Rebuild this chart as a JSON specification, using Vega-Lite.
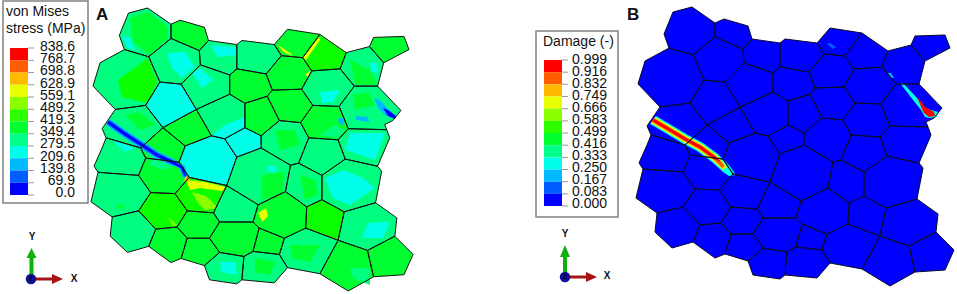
{"$schema":"https://vega.github.io/schema/vega-lite/v6.json","padding":0,"spacing":0,"background":"white","config":{"view":{"stroke":null}},
"datasets":{
"grains":[
{"g":1,"a":5,"x":692,"y":7},{"g":1,"a":5,"x":673,"y":12},{"g":1,"a":5,"x":664,"y":34},{"g":1,"a":5,"x":669,"y":48},{"g":1,"a":5,"x":693,"y":55},{"g":1,"a":5,"x":715,"y":37},{"g":1,"a":5,"x":715,"y":23},{"g":1,"a":5,"x":692,"y":7},
{"g":2,"a":6,"x":715,"y":23},{"g":2,"a":6,"x":724,"y":19},{"g":2,"a":6,"x":748,"y":26},{"g":2,"a":6,"x":752,"y":39},{"g":2,"a":6,"x":743,"y":49},{"g":2,"a":6,"x":715,"y":37},{"g":2,"a":6,"x":715,"y":23},
{"g":3,"a":5,"x":752,"y":39},{"g":3,"a":5,"x":780,"y":43},{"g":3,"a":5,"x":780,"y":67},{"g":3,"a":5,"x":773,"y":73},{"g":3,"a":5,"x":744,"y":63},{"g":3,"a":5,"x":743,"y":49},{"g":3,"a":5,"x":752,"y":39},
{"g":4,"a":5,"x":780,"y":43},{"g":4,"a":5,"x":785,"y":39},{"g":4,"a":5,"x":817,"y":43},{"g":4,"a":5,"x":824,"y":54},{"g":4,"a":5,"x":809,"y":72},{"g":4,"a":5,"x":780,"y":67},{"g":4,"a":5,"x":780,"y":43},
{"g":5,"a":6,"x":817,"y":43},{"g":5,"a":6,"x":830,"y":28},{"g":5,"a":6,"x":862,"y":33},{"g":5,"a":6,"x":845,"y":56},{"g":5,"a":6,"x":824,"y":54},{"g":5,"a":6,"x":817,"y":43},
{"g":6,"a":7,"x":862,"y":33},{"g":6,"a":7,"x":888,"y":51},{"g":6,"a":7,"x":882,"y":67},{"g":6,"a":7,"x":854,"y":69},{"g":6,"a":7,"x":845,"y":56},{"g":6,"a":7,"x":862,"y":33},
{"g":7,"a":5,"x":888,"y":51},{"g":7,"a":5,"x":911,"y":45},{"g":7,"a":5,"x":925,"y":61},{"g":7,"a":5,"x":919,"y":84},{"g":7,"a":5,"x":896,"y":84},{"g":7,"a":5,"x":882,"y":67},{"g":7,"a":5,"x":888,"y":51},
{"g":8,"a":6,"x":911,"y":45},{"g":8,"a":6,"x":915,"y":36},{"g":8,"a":6,"x":945,"y":35},{"g":8,"a":6,"x":950,"y":48},{"g":8,"a":6,"x":925,"y":61},{"g":8,"a":6,"x":911,"y":45},
{"g":9,"a":5,"x":669,"y":48},{"g":9,"a":5,"x":645,"y":61},{"g":9,"a":5,"x":638,"y":84},{"g":9,"a":5,"x":660,"y":107},{"g":9,"a":5,"x":690,"y":103},{"g":9,"a":5,"x":704,"y":80},{"g":9,"a":5,"x":693,"y":55},{"g":9,"a":5,"x":669,"y":48},
{"g":10,"a":5,"x":693,"y":55},{"g":10,"a":5,"x":715,"y":37},{"g":10,"a":5,"x":743,"y":49},{"g":10,"a":5,"x":744,"y":63},{"g":10,"a":5,"x":725,"y":82},{"g":10,"a":5,"x":704,"y":80},{"g":10,"a":5,"x":693,"y":55},
{"g":11,"a":4,"x":704,"y":80},{"g":11,"a":4,"x":725,"y":82},{"g":11,"a":4,"x":740,"y":107},{"g":11,"a":4,"x":707,"y":125},{"g":11,"a":4,"x":690,"y":103},{"g":11,"a":4,"x":704,"y":80},
{"g":12,"a":5,"x":725,"y":82},{"g":12,"a":5,"x":744,"y":63},{"g":12,"a":5,"x":773,"y":73},{"g":12,"a":5,"x":773,"y":92},{"g":12,"a":5,"x":740,"y":107},{"g":12,"a":5,"x":725,"y":82},
{"g":13,"a":6,"x":773,"y":73},{"g":13,"a":6,"x":780,"y":67},{"g":13,"a":6,"x":809,"y":72},{"g":13,"a":6,"x":815,"y":88},{"g":13,"a":6,"x":810,"y":94},{"g":13,"a":6,"x":788,"y":101},{"g":13,"a":6,"x":773,"y":92},{"g":13,"a":6,"x":773,"y":73},
{"g":14,"a":6,"x":809,"y":72},{"g":14,"a":6,"x":824,"y":54},{"g":14,"a":6,"x":845,"y":56},{"g":14,"a":6,"x":854,"y":69},{"g":14,"a":6,"x":844,"y":87},{"g":14,"a":6,"x":815,"y":88},{"g":14,"a":6,"x":809,"y":72},
{"g":15,"a":5,"x":854,"y":69},{"g":15,"a":5,"x":882,"y":67},{"g":15,"a":5,"x":896,"y":84},{"g":15,"a":5,"x":881,"y":104},{"g":15,"a":5,"x":855,"y":103},{"g":15,"a":5,"x":844,"y":87},{"g":15,"a":5,"x":854,"y":69},
{"g":17,"a":5,"x":896,"y":84},{"g":17,"a":5,"x":919,"y":84},{"g":17,"a":5,"x":942,"y":108},{"g":17,"a":5,"x":934,"y":118},{"g":17,"a":5,"x":926,"y":122},{"g":17,"a":5,"x":928,"y":127},{"g":17,"a":5,"x":890,"y":126},{"g":17,"a":5,"x":881,"y":104},{"g":17,"a":5,"x":896,"y":84},
{"g":18,"a":6,"x":815,"y":88},{"g":18,"a":6,"x":844,"y":87},{"g":18,"a":6,"x":855,"y":103},{"g":18,"a":6,"x":843,"y":120},{"g":18,"a":6,"x":822,"y":118},{"g":18,"a":6,"x":810,"y":94},{"g":18,"a":6,"x":815,"y":88},
{"g":19,"a":6,"x":855,"y":103},{"g":19,"a":6,"x":881,"y":104},{"g":19,"a":6,"x":890,"y":126},{"g":19,"a":6,"x":880,"y":137},{"g":19,"a":6,"x":851,"y":135},{"g":19,"a":6,"x":843,"y":120},{"g":19,"a":6,"x":855,"y":103},
{"g":20,"a":5,"x":890,"y":126},{"g":20,"a":5,"x":928,"y":127},{"g":20,"a":5,"x":931,"y":135},{"g":20,"a":5,"x":919,"y":163},{"g":20,"a":5,"x":887,"y":156},{"g":20,"a":5,"x":880,"y":137},{"g":20,"a":5,"x":890,"y":126},
{"g":21,"a":5,"x":740,"y":107},{"g":21,"a":5,"x":773,"y":92},{"g":21,"a":5,"x":788,"y":101},{"g":21,"a":5,"x":788,"y":125},{"g":21,"a":5,"x":768,"y":136},{"g":21,"a":5,"x":755,"y":133},{"g":21,"a":5,"x":740,"y":107},
{"g":22,"a":6,"x":788,"y":101},{"g":22,"a":6,"x":810,"y":94},{"g":22,"a":6,"x":822,"y":118},{"g":22,"a":6,"x":804,"y":133},{"g":22,"a":6,"x":788,"y":125},{"g":22,"a":6,"x":788,"y":101},
{"g":23,"a":6,"x":707,"y":125},{"g":23,"a":6,"x":740,"y":107},{"g":23,"a":6,"x":755,"y":133},{"g":23,"a":6,"x":729,"y":143},{"g":23,"a":6,"x":707,"y":125},
{"g":24,"a":4,"x":755,"y":133},{"g":24,"a":4,"x":768,"y":136},{"g":24,"a":4,"x":780,"y":154},{"g":24,"a":4,"x":770,"y":182},{"g":24,"a":4,"x":733,"y":174},{"g":24,"a":4,"x":723,"y":159},{"g":24,"a":4,"x":729,"y":143},{"g":24,"a":4,"x":755,"y":133},
{"g":25,"a":4,"x":768,"y":136},{"g":25,"a":4,"x":788,"y":125},{"g":25,"a":4,"x":804,"y":133},{"g":25,"a":4,"x":804,"y":145},{"g":25,"a":4,"x":780,"y":154},{"g":25,"a":4,"x":768,"y":136},
{"g":26,"a":5,"x":804,"y":133},{"g":26,"a":5,"x":822,"y":118},{"g":26,"a":5,"x":843,"y":120},{"g":26,"a":5,"x":851,"y":135},{"g":26,"a":5,"x":847,"y":145},{"g":26,"a":5,"x":841,"y":160},{"g":26,"a":5,"x":833,"y":162},{"g":26,"a":5,"x":804,"y":145},{"g":26,"a":5,"x":804,"y":133},
{"g":27,"a":5,"x":851,"y":135},{"g":27,"a":5,"x":880,"y":137},{"g":27,"a":5,"x":887,"y":156},{"g":27,"a":5,"x":864,"y":172},{"g":27,"a":5,"x":841,"y":160},{"g":27,"a":5,"x":847,"y":145},{"g":27,"a":5,"x":851,"y":135},
{"g":28,"a":5,"x":887,"y":156},{"g":28,"a":5,"x":919,"y":163},{"g":28,"a":5,"x":923,"y":168},{"g":28,"a":5,"x":917,"y":199},{"g":28,"a":5,"x":886,"y":208},{"g":28,"a":5,"x":864,"y":196},{"g":28,"a":5,"x":864,"y":172},{"g":28,"a":5,"x":887,"y":156},
{"g":29,"a":5,"x":841,"y":160},{"g":29,"a":5,"x":864,"y":172},{"g":29,"a":5,"x":864,"y":196},{"g":29,"a":5,"x":849,"y":203},{"g":29,"a":5,"x":828,"y":188},{"g":29,"a":5,"x":833,"y":162},{"g":29,"a":5,"x":841,"y":160},
{"g":30,"a":5,"x":780,"y":154},{"g":30,"a":5,"x":804,"y":145},{"g":30,"a":5,"x":833,"y":162},{"g":30,"a":5,"x":828,"y":188},{"g":30,"a":5,"x":801,"y":201},{"g":30,"a":5,"x":770,"y":182},{"g":30,"a":5,"x":780,"y":154},
{"g":31,"a":6,"x":828,"y":188},{"g":31,"a":6,"x":849,"y":203},{"g":31,"a":6,"x":848,"y":224},{"g":31,"a":6,"x":827,"y":234},{"g":31,"a":6,"x":802,"y":224},{"g":31,"a":6,"x":796,"y":218},{"g":31,"a":6,"x":801,"y":201},{"g":31,"a":6,"x":828,"y":188},
{"g":32,"a":7,"x":849,"y":203},{"g":32,"a":7,"x":864,"y":196},{"g":32,"a":7,"x":886,"y":208},{"g":32,"a":7,"x":880,"y":236},{"g":32,"a":7,"x":848,"y":224},{"g":32,"a":7,"x":849,"y":203},
{"g":33,"a":5,"x":886,"y":208},{"g":33,"a":5,"x":917,"y":199},{"g":33,"a":5,"x":938,"y":214},{"g":33,"a":5,"x":936,"y":232},{"g":33,"a":5,"x":909,"y":246},{"g":33,"a":5,"x":880,"y":236},{"g":33,"a":5,"x":886,"y":208},
{"g":34,"a":6,"x":936,"y":232},{"g":34,"a":6,"x":954,"y":250},{"g":34,"a":6,"x":945,"y":270},{"g":34,"a":6,"x":915,"y":272},{"g":34,"a":6,"x":909,"y":246},{"g":34,"a":6,"x":936,"y":232},
{"g":35,"a":6,"x":880,"y":236},{"g":35,"a":6,"x":909,"y":246},{"g":35,"a":6,"x":915,"y":272},{"g":35,"a":6,"x":890,"y":286},{"g":35,"a":6,"x":862,"y":269},{"g":35,"a":6,"x":880,"y":236},
{"g":36,"a":5,"x":848,"y":224},{"g":36,"a":5,"x":880,"y":236},{"g":36,"a":5,"x":862,"y":269},{"g":36,"a":5,"x":830,"y":263},{"g":36,"a":5,"x":822,"y":250},{"g":36,"a":5,"x":827,"y":234},{"g":36,"a":5,"x":848,"y":224},
{"g":37,"a":6,"x":802,"y":224},{"g":37,"a":6,"x":827,"y":234},{"g":37,"a":6,"x":822,"y":250},{"g":37,"a":6,"x":796,"y":247},{"g":37,"a":6,"x":802,"y":224},
{"g":38,"a":6,"x":763,"y":218},{"g":38,"a":6,"x":796,"y":218},{"g":38,"a":6,"x":802,"y":224},{"g":38,"a":6,"x":796,"y":247},{"g":38,"a":6,"x":787,"y":252},{"g":38,"a":6,"x":763,"y":248},{"g":38,"a":6,"x":753,"y":234},{"g":38,"a":6,"x":763,"y":218},
{"g":39,"a":5,"x":796,"y":247},{"g":39,"a":5,"x":822,"y":250},{"g":39,"a":5,"x":830,"y":263},{"g":39,"a":5,"x":817,"y":278},{"g":39,"a":5,"x":785,"y":275},{"g":39,"a":5,"x":787,"y":252},{"g":39,"a":5,"x":796,"y":247},
{"g":40,"a":5,"x":763,"y":248},{"g":40,"a":5,"x":787,"y":252},{"g":40,"a":5,"x":785,"y":275},{"g":40,"a":5,"x":780,"y":279},{"g":40,"a":5,"x":753,"y":275},{"g":40,"a":5,"x":748,"y":261},{"g":40,"a":5,"x":763,"y":248},
{"g":41,"a":5,"x":770,"y":182},{"g":41,"a":5,"x":801,"y":201},{"g":41,"a":5,"x":796,"y":218},{"g":41,"a":5,"x":763,"y":218},{"g":41,"a":5,"x":757,"y":209},{"g":41,"a":5,"x":770,"y":182},
{"g":42,"a":7,"x":733,"y":174},{"g":42,"a":7,"x":770,"y":182},{"g":42,"a":7,"x":757,"y":209},{"g":42,"a":7,"x":731,"y":207},{"g":42,"a":7,"x":719,"y":190},{"g":42,"a":7,"x":733,"y":174},
{"g":43,"a":6,"x":731,"y":207},{"g":43,"a":6,"x":757,"y":209},{"g":43,"a":6,"x":763,"y":218},{"g":43,"a":6,"x":753,"y":234},{"g":43,"a":6,"x":731,"y":234},{"g":43,"a":6,"x":721,"y":223},{"g":43,"a":6,"x":731,"y":207},
{"g":44,"a":6,"x":700,"y":225},{"g":44,"a":6,"x":721,"y":223},{"g":44,"a":6,"x":731,"y":234},{"g":44,"a":6,"x":725,"y":254},{"g":44,"a":6,"x":715,"y":258},{"g":44,"a":6,"x":693,"y":242},{"g":44,"a":6,"x":700,"y":225},
{"g":45,"a":6,"x":731,"y":234},{"g":45,"a":6,"x":753,"y":234},{"g":45,"a":6,"x":763,"y":248},{"g":45,"a":6,"x":748,"y":261},{"g":45,"a":6,"x":725,"y":254},{"g":45,"a":6,"x":731,"y":234},
{"g":46,"a":7,"x":683,"y":207},{"g":46,"a":7,"x":695,"y":189},{"g":46,"a":7,"x":719,"y":190},{"g":46,"a":7,"x":731,"y":207},{"g":46,"a":7,"x":721,"y":223},{"g":46,"a":7,"x":700,"y":225},{"g":46,"a":7,"x":683,"y":207},
{"g":47,"a":6,"x":690,"y":155},{"g":47,"a":6,"x":723,"y":159},{"g":47,"a":6,"x":733,"y":174},{"g":47,"a":6,"x":719,"y":190},{"g":47,"a":6,"x":695,"y":189},{"g":47,"a":6,"x":683,"y":172},{"g":47,"a":6,"x":690,"y":155},
{"g":48,"a":5,"x":643,"y":169},{"g":48,"a":5,"x":683,"y":172},{"g":48,"a":5,"x":695,"y":189},{"g":48,"a":5,"x":683,"y":207},{"g":48,"a":5,"x":657,"y":213},{"g":48,"a":5,"x":636,"y":198},{"g":48,"a":5,"x":643,"y":169},
{"g":49,"a":5,"x":657,"y":213},{"g":49,"a":5,"x":683,"y":207},{"g":49,"a":5,"x":700,"y":225},{"g":49,"a":5,"x":693,"y":242},{"g":49,"a":5,"x":672,"y":248},{"g":49,"a":5,"x":655,"y":232},{"g":49,"a":5,"x":657,"y":213},
{"g":50,"a":5,"x":651,"y":135},{"g":50,"a":5,"x":685,"y":145},{"g":50,"a":5,"x":690,"y":155},{"g":50,"a":5,"x":683,"y":172},{"g":50,"a":5,"x":643,"y":169},{"g":50,"a":5,"x":639,"y":163},{"g":50,"a":5,"x":647,"y":145},{"g":50,"a":5,"x":651,"y":135},
{"g":51,"a":5,"x":660,"y":107},{"g":51,"a":5,"x":690,"y":103},{"g":51,"a":5,"x":707,"y":125},{"g":51,"a":5,"x":685,"y":145},{"g":51,"a":5,"x":651,"y":135},{"g":51,"a":5,"x":647,"y":126},{"g":51,"a":5,"x":660,"y":107},
{"g":52,"a":6,"x":685,"y":145},{"g":52,"a":6,"x":707,"y":125},{"g":52,"a":6,"x":729,"y":143},{"g":52,"a":6,"x":723,"y":159},{"g":52,"a":6,"x":690,"y":155},{"g":52,"a":6,"x":685,"y":145}
],
"contours":[
{"p":1,"b":6,"x":130,"y":18},{"p":1,"b":6,"x":148,"y":12},{"p":1,"b":6,"x":168,"y":27},{"p":1,"b":6,"x":168,"y":38},{"p":1,"b":6,"x":150,"y":55},{"p":1,"b":6,"x":133,"y":42},
{"p":2,"b":7,"x":118,"y":80},{"p":2,"b":7,"x":148,"y":58},{"p":2,"b":7,"x":157,"y":82},{"p":2,"b":7,"x":147,"y":103},{"p":2,"b":7,"x":122,"y":97},
{"p":3,"b":4,"x":210,"y":45},{"p":3,"b":4,"x":237,"y":47},{"p":3,"b":4,"x":237,"y":55},{"p":3,"b":4,"x":218,"y":57},
{"p":4,"b":4,"x":167,"y":53},{"p":4,"b":4,"x":185,"y":52},{"p":4,"b":4,"x":195,"y":67},{"p":4,"b":4,"x":182,"y":78},{"p":4,"b":4,"x":172,"y":68},
{"p":5,"b":4,"x":192,"y":73},{"p":5,"b":4,"x":200,"y":68},{"p":5,"b":4,"x":213,"y":80},{"p":5,"b":4,"x":202,"y":88},
{"p":6,"b":4,"x":122,"y":35},{"p":6,"b":4,"x":130,"y":38},{"p":6,"b":4,"x":135,"y":50},{"p":6,"b":4,"x":127,"y":48},
{"p":7,"b":4,"x":320,"y":92},{"p":7,"b":4,"x":340,"y":90},{"p":7,"b":4,"x":333,"y":102},{"p":7,"b":4,"x":322,"y":103},
{"p":8,"b":4,"x":325,"y":178},{"p":8,"b":4,"x":343,"y":170},{"p":8,"b":4,"x":363,"y":178},{"p":8,"b":4,"x":375,"y":188},{"p":8,"b":4,"x":350,"y":205},{"p":8,"b":4,"x":333,"y":198},
{"p":9,"b":4,"x":362,"y":238},{"p":9,"b":4,"x":368,"y":223},{"p":9,"b":4,"x":390,"y":222},{"p":9,"b":4,"x":383,"y":238},
{"p":10,"b":6,"x":353,"y":95},{"p":10,"b":6,"x":368,"y":92},{"p":10,"b":6,"x":375,"y":105},{"p":10,"b":6,"x":355,"y":110},
{"p":11,"b":9,"x":186,"y":180},{"p":11,"b":9,"x":205,"y":182},{"p":11,"b":9,"x":226,"y":187},{"p":11,"b":9,"x":222,"y":191},{"p":11,"b":9,"x":200,"y":188},{"p":11,"b":9,"x":190,"y":190},
{"p":12,"b":8,"x":192,"y":192},{"p":12,"b":8,"x":206,"y":196},{"p":12,"b":8,"x":218,"y":208},{"p":12,"b":8,"x":205,"y":210},{"p":12,"b":8,"x":198,"y":203},
{"p":27,"b":5,"x":335,"y":125},{"p":27,"b":5,"x":345,"y":130},{"p":27,"b":5,"x":338,"y":138},{"p":27,"b":5,"x":320,"y":135},
{"p":28,"b":4,"x":350,"y":133},{"p":28,"b":4,"x":385,"y":133},{"p":28,"b":4,"x":375,"y":160},{"p":28,"b":4,"x":345,"y":150},
{"p":29,"b":4,"x":212,"y":135},{"p":29,"b":4,"x":225,"y":125},{"p":29,"b":4,"x":245,"y":117},{"p":29,"b":4,"x":245,"y":128},{"p":29,"b":4,"x":225,"y":139},
{"p":30,"b":6,"x":350,"y":60},{"p":30,"b":6,"x":370,"y":70},{"p":30,"b":6,"x":378,"y":85},{"p":30,"b":6,"x":355,"y":85},
{"p":31,"b":4,"x":370,"y":63},{"p":31,"b":4,"x":377,"y":63},{"p":31,"b":4,"x":377,"y":73},{"p":31,"b":4,"x":372,"y":72},
{"p":32,"b":6,"x":262,"y":175},{"p":32,"b":6,"x":285,"y":172},{"p":32,"b":6,"x":282,"y":195},{"p":32,"b":6,"x":262,"y":200},
{"p":33,"b":4,"x":268,"y":165},{"p":33,"b":4,"x":277,"y":167},{"p":33,"b":4,"x":275,"y":172},{"p":33,"b":4,"x":268,"y":171},
{"p":34,"b":6,"x":300,"y":175},{"p":34,"b":6,"x":315,"y":180},{"p":34,"b":6,"x":318,"y":195},{"p":34,"b":6,"x":305,"y":200},
{"p":35,"b":6,"x":290,"y":245},{"p":35,"b":6,"x":320,"y":245},{"p":35,"b":6,"x":310,"y":262},{"p":35,"b":6,"x":292,"y":258},
{"p":36,"b":6,"x":255,"y":258},{"p":36,"b":6,"x":275,"y":262},{"p":36,"b":6,"x":270,"y":275},{"p":36,"b":6,"x":255,"y":272},
{"p":37,"b":6,"x":115,"y":205},{"p":37,"b":6,"x":125,"y":205},{"p":37,"b":6,"x":122,"y":210},
{"p":38,"b":4,"x":220,"y":262},{"p":38,"b":4,"x":235,"y":262},{"p":38,"b":4,"x":237,"y":275},{"p":38,"b":4,"x":222,"y":272},
{"p":39,"b":6,"x":275,"y":130},{"p":39,"b":6,"x":295,"y":130},{"p":39,"b":6,"x":300,"y":145},{"p":39,"b":6,"x":280,"y":150},
{"p":40,"b":6,"x":125,"y":115},{"p":40,"b":6,"x":140,"y":112},{"p":40,"b":6,"x":155,"y":125},{"p":40,"b":6,"x":140,"y":130},
{"p":41,"b":5,"x":150,"y":150},{"p":41,"b":5,"x":175,"y":163},{"p":41,"b":5,"x":165,"y":170},{"p":41,"b":5,"x":150,"y":165},
{"p":42,"b":4,"x":112,"y":140},{"p":42,"b":4,"x":135,"y":148},{"p":42,"b":4,"x":125,"y":152},
{"p":13,"b":3,"x":110,"y":119},{"p":13,"b":3,"x":127,"y":131},{"p":13,"b":3,"x":144,"y":142},{"p":13,"b":3,"x":159,"y":152},{"p":13,"b":3,"x":174,"y":159},{"p":13,"b":3,"x":185,"y":166},{"p":13,"b":3,"x":188,"y":178},{"p":13,"b":3,"x":183,"y":178},{"p":13,"b":3,"x":179,"y":168},{"p":13,"b":3,"x":170,"y":165},{"p":13,"b":3,"x":155,"y":158},{"p":13,"b":3,"x":140,"y":148},{"p":13,"b":3,"x":123,"y":137},{"p":13,"b":3,"x":106,"y":125},
{"p":14,"b":2,"x":109,"y":120},{"p":14,"b":2,"x":126,"y":132},{"p":14,"b":2,"x":143,"y":143},{"p":14,"b":2,"x":158,"y":153},{"p":14,"b":2,"x":173,"y":160},{"p":14,"b":2,"x":184,"y":167},{"p":14,"b":2,"x":187,"y":177},{"p":14,"b":2,"x":184,"y":177},{"p":14,"b":2,"x":180,"y":168},{"p":14,"b":2,"x":171,"y":164},{"p":14,"b":2,"x":156,"y":157},{"p":14,"b":2,"x":141,"y":147},{"p":14,"b":2,"x":124,"y":136},{"p":14,"b":2,"x":107,"y":124},
{"p":15,"b":1,"x":109,"y":121},{"p":15,"b":1,"x":126,"y":133},{"p":15,"b":1,"x":143,"y":144},{"p":15,"b":1,"x":158,"y":154},{"p":15,"b":1,"x":173,"y":161},{"p":15,"b":1,"x":183,"y":167},{"p":15,"b":1,"x":186,"y":176},{"p":15,"b":1,"x":185,"y":176},{"p":15,"b":1,"x":181,"y":168},{"p":15,"b":1,"x":171,"y":163},{"p":15,"b":1,"x":156,"y":156},{"p":15,"b":1,"x":141,"y":146},{"p":15,"b":1,"x":124,"y":135},{"p":15,"b":1,"x":107,"y":123},
{"p":16,"b":10,"x":186,"y":176},{"p":16,"b":10,"x":190,"y":179},{"p":16,"b":10,"x":188,"y":183},{"p":16,"b":10,"x":184,"y":180},
{"p":17,"b":3,"x":374,"y":98},{"p":17,"b":3,"x":380,"y":100},{"p":17,"b":3,"x":387,"y":108},{"p":17,"b":3,"x":396,"y":116},{"p":17,"b":3,"x":395,"y":119},{"p":17,"b":3,"x":385,"y":115},{"p":17,"b":3,"x":378,"y":108},
{"p":18,"b":1,"x":383,"y":108},{"p":18,"b":1,"x":388,"y":110},{"p":18,"b":1,"x":396,"y":116},{"p":18,"b":1,"x":395,"y":119},{"p":18,"b":1,"x":388,"y":116},
{"p":19,"b":3,"x":355,"y":116},{"p":19,"b":3,"x":368,"y":117},{"p":19,"b":3,"x":369,"y":122},{"p":19,"b":3,"x":356,"y":120},
{"p":20,"b":3,"x":338,"y":118},{"p":20,"b":3,"x":343,"y":118},{"p":20,"b":3,"x":344,"y":125},{"p":20,"b":3,"x":339,"y":124},
{"p":21,"b":9,"x":303,"y":57},{"p":21,"b":9,"x":319,"y":37},{"p":21,"b":9,"x":320,"y":40},{"p":21,"b":9,"x":306,"y":60},
{"p":22,"b":9,"x":278,"y":45},{"p":22,"b":9,"x":290,"y":53},{"p":22,"b":9,"x":293,"y":56},{"p":22,"b":9,"x":283,"y":52},
{"p":23,"b":9,"x":305,"y":75},{"p":23,"b":9,"x":311,"y":70},{"p":23,"b":9,"x":309,"y":77},
{"p":24,"b":9,"x":258,"y":213},{"p":24,"b":9,"x":266,"y":208},{"p":24,"b":9,"x":268,"y":216},{"p":24,"b":9,"x":262,"y":222},
{"p":25,"b":8,"x":168,"y":217},{"p":25,"b":8,"x":177,"y":225},{"p":25,"b":8,"x":173,"y":226},
{"p":26,"b":5,"x":350,"y":268},{"p":26,"b":5,"x":370,"y":268},{"p":26,"b":5,"x":370,"y":285},{"p":26,"b":5,"x":353,"y":278}
],
"damage":[
{"p":1,"b":4,"x":656,"y":116},{"p":1,"b":4,"x":673,"y":126},{"p":1,"b":4,"x":688,"y":135},{"p":1,"b":4,"x":703,"y":143},{"p":1,"b":4,"x":718,"y":154},{"p":1,"b":4,"x":729,"y":165},{"p":1,"b":4,"x":736,"y":175},{"p":1,"b":4,"x":729,"y":176},{"p":1,"b":4,"x":723,"y":172},{"p":1,"b":4,"x":712,"y":162},{"p":1,"b":4,"x":697,"y":151},{"p":1,"b":4,"x":682,"y":143},{"p":1,"b":4,"x":667,"y":134},{"p":1,"b":4,"x":650,"y":124},
{"p":2,"b":9,"x":655,"y":117},{"p":2,"b":9,"x":672,"y":127},{"p":2,"b":9,"x":687,"y":136},{"p":2,"b":9,"x":702,"y":144},{"p":2,"b":9,"x":717,"y":155},{"p":2,"b":9,"x":727,"y":167},{"p":2,"b":9,"x":723,"y":170},{"p":2,"b":9,"x":713,"y":161},{"p":2,"b":9,"x":698,"y":150},{"p":2,"b":9,"x":683,"y":142},{"p":2,"b":9,"x":668,"y":133},{"p":2,"b":9,"x":651,"y":123},
{"p":3,"b":11,"x":654,"y":118},{"p":3,"b":11,"x":671,"y":128},{"p":3,"b":11,"x":686,"y":137},{"p":3,"b":11,"x":701,"y":145},{"p":3,"b":11,"x":716,"y":156},{"p":3,"b":11,"x":725,"y":166},{"p":3,"b":11,"x":722,"y":168},{"p":3,"b":11,"x":714,"y":160},{"p":3,"b":11,"x":699,"y":149},{"p":3,"b":11,"x":684,"y":141},{"p":3,"b":11,"x":669,"y":132},{"p":3,"b":11,"x":652,"y":122},
{"p":4,"b":12,"x":654,"y":119},{"p":4,"b":12,"x":671,"y":129},{"p":4,"b":12,"x":686,"y":138},{"p":4,"b":12,"x":701,"y":146},{"p":4,"b":12,"x":716,"y":157},{"p":4,"b":12,"x":722,"y":163},{"p":4,"b":12,"x":714,"y":159},{"p":4,"b":12,"x":699,"y":148},{"p":4,"b":12,"x":684,"y":140},{"p":4,"b":12,"x":669,"y":131},{"p":4,"b":12,"x":652,"y":121},
{"p":5,"b":3,"x":888,"y":73},{"p":5,"b":3,"x":891,"y":73},{"p":5,"b":3,"x":894,"y":78},{"p":5,"b":3,"x":891,"y":78},
{"p":6,"b":4,"x":900,"y":83},{"p":6,"b":4,"x":903,"y":83},{"p":6,"b":4,"x":917,"y":98},{"p":6,"b":4,"x":924,"y":108},{"p":6,"b":4,"x":938,"y":112},{"p":6,"b":4,"x":937,"y":117},{"p":6,"b":4,"x":930,"y":118},{"p":6,"b":4,"x":925,"y":117},{"p":6,"b":4,"x":921,"y":110},{"p":6,"b":4,"x":913,"y":100},
{"p":7,"b":12,"x":917,"y":97},{"p":7,"b":12,"x":920,"y":100},{"p":7,"b":12,"x":925,"y":107},{"p":7,"b":12,"x":934,"y":112},{"p":7,"b":12,"x":935,"y":116},{"p":7,"b":12,"x":929,"y":117},{"p":7,"b":12,"x":924,"y":113},{"p":7,"b":12,"x":922,"y":109},
{"p":8,"b":2,"x":827,"y":44},{"p":8,"b":2,"x":830,"y":43},{"p":8,"b":2,"x":836,"y":47},{"p":8,"b":2,"x":833,"y":49},
{"p":9,"b":4,"x":879,"y":235},{"p":9,"b":4,"x":881,"y":235},{"p":9,"b":4,"x":881,"y":237},{"p":9,"b":4,"x":879,"y":237}
],
"swatches":[
{"p":"A","b":12,"x":10,"x2":28,"y":48,"y2":60.25},{"p":"A","b":11,"x":10,"x2":28,"y":60.25,"y2":72.5},{"p":"A","b":10,"x":10,"x2":28,"y":72.5,"y2":84.75},{"p":"A","b":9,"x":10,"x2":28,"y":84.75,"y2":97},{"p":"A","b":8,"x":10,"x2":28,"y":97,"y2":109.25},{"p":"A","b":7,"x":10,"x2":28,"y":109.25,"y2":121.5},{"p":"A","b":6,"x":10,"x2":28,"y":121.5,"y2":133.75},{"p":"A","b":5,"x":10,"x2":28,"y":133.75,"y2":146},{"p":"A","b":4,"x":10,"x2":28,"y":146,"y2":158.25},{"p":"A","b":3,"x":10,"x2":28,"y":158.25,"y2":170.5},{"p":"A","b":2,"x":10,"x2":28,"y":170.5,"y2":182.75},{"p":"A","b":1,"x":10,"x2":28,"y":182.75,"y2":195},
{"p":"B","b":12,"x":544,"x2":562,"y":60,"y2":72.2},{"p":"B","b":11,"x":544,"x2":562,"y":72.2,"y2":84.3},{"p":"B","b":10,"x":544,"x2":562,"y":84.3,"y2":96.5},{"p":"B","b":9,"x":544,"x2":562,"y":96.5,"y2":108.7},{"p":"B","b":8,"x":544,"x2":562,"y":108.7,"y2":120.9},{"p":"B","b":7,"x":544,"x2":562,"y":120.9,"y2":133},{"p":"B","b":6,"x":544,"x2":562,"y":133,"y2":145.2},{"p":"B","b":5,"x":544,"x2":562,"y":145.2,"y2":157.4},{"p":"B","b":4,"x":544,"x2":562,"y":157.4,"y2":169.5},{"p":"B","b":3,"x":544,"x2":562,"y":169.5,"y2":181.7},{"p":"B","b":2,"x":544,"x2":562,"y":181.7,"y2":193.9},{"p":"B","b":1,"x":544,"x2":562,"y":193.9,"y2":206}
],
"boxes":[{"p":"A","x":3,"x2":88,"y":1,"y2":203},{"p":"B","x":536,"x2":618,"y":31,"y2":217}],
"texts":[
{"p":"A","k":"title","t":"von Mises","x":6,"y":12},{"p":"A","k":"title","t":"stress (MPa)","x":6,"y":29},
{"p":"A","k":"num","t":"838.6","x":75,"y":47},{"p":"A","k":"num","t":"768.7","x":75,"y":59},{"p":"A","k":"num","t":"698.8","x":75,"y":71},{"p":"A","k":"num","t":"628.9","x":75,"y":83.5},{"p":"A","k":"num","t":"559.1","x":75,"y":95.7},{"p":"A","k":"num","t":"489.2","x":75,"y":108},{"p":"A","k":"num","t":"419.3","x":75,"y":120},{"p":"A","k":"num","t":"349.4","x":75,"y":132},{"p":"A","k":"num","t":"279.5","x":75,"y":144.4},{"p":"A","k":"num","t":"209.6","x":75,"y":156.6},{"p":"A","k":"num","t":"139.8","x":75,"y":168.7},{"p":"A","k":"num","t":"69.9","x":75,"y":181},{"p":"A","k":"num","t":"0.0","x":75,"y":193},
{"p":"A","k":"panel","t":"A","x":96,"y":15},
{"p":"A","k":"axis","t":"Y","x":32,"y":237},{"p":"A","k":"axis","t":"X","x":74,"y":279},{"p":"A","k":"z","t":"Z","x":31,"y":279},
{"p":"B","k":"title","t":"Damage (-)","x":543,"y":42},
{"p":"B","k":"num","t":"0.999","x":607,"y":59.5},{"p":"B","k":"num","t":"0.916","x":607,"y":71.5},{"p":"B","k":"num","t":"0.832","x":607,"y":83.6},{"p":"B","k":"num","t":"0.749","x":607,"y":95.6},{"p":"B","k":"num","t":"0.666","x":607,"y":107.7},{"p":"B","k":"num","t":"0.583","x":607,"y":119.7},{"p":"B","k":"num","t":"0.499","x":607,"y":131.7},{"p":"B","k":"num","t":"0.416","x":607,"y":143.8},{"p":"B","k":"num","t":"0.333","x":607,"y":155.8},{"p":"B","k":"num","t":"0.250","x":607,"y":167.9},{"p":"B","k":"num","t":"0.167","x":607,"y":179.9},{"p":"B","k":"num","t":"0.083","x":607,"y":192},{"p":"B","k":"num","t":"0.000","x":607,"y":204},
{"p":"B","k":"panel","t":"B","x":627,"y":15},
{"p":"B","k":"axis","t":"Y","x":565,"y":234},{"p":"B","k":"axis","t":"X","x":607,"y":276},{"p":"B","k":"z","t":"Z","x":565,"y":277}
],
"ticks":[
{"p":"A","x":28,"x2":34,"y":48},{"p":"A","x":28,"x2":34,"y":60.25},{"p":"A","x":28,"x2":34,"y":72.5},{"p":"A","x":28,"x2":34,"y":84.75},{"p":"A","x":28,"x2":34,"y":97},{"p":"A","x":28,"x2":34,"y":109.25},{"p":"A","x":28,"x2":34,"y":121.5},{"p":"A","x":28,"x2":34,"y":133.75},{"p":"A","x":28,"x2":34,"y":146},{"p":"A","x":28,"x2":34,"y":158.25},{"p":"A","x":28,"x2":34,"y":170.5},{"p":"A","x":28,"x2":34,"y":182.75},{"p":"A","x":28,"x2":34,"y":195},
{"p":"B","x":562,"x2":568,"y":60},{"p":"B","x":562,"x2":568,"y":72.2},{"p":"B","x":562,"x2":568,"y":84.3},{"p":"B","x":562,"x2":568,"y":96.5},{"p":"B","x":562,"x2":568,"y":108.7},{"p":"B","x":562,"x2":568,"y":120.9},{"p":"B","x":562,"x2":568,"y":133},{"p":"B","x":562,"x2":568,"y":145.2},{"p":"B","x":562,"x2":568,"y":157.4},{"p":"B","x":562,"x2":568,"y":169.5},{"p":"B","x":562,"x2":568,"y":181.7},{"p":"B","x":562,"x2":568,"y":193.9},{"p":"B","x":562,"x2":568,"y":206}
],
"triad":[
{"p":"A","s":"Ys","c":"Y","x":29.5,"y":279},{"p":"A","s":"Ys","c":"Y","x":29.5,"y":256},{"p":"A","s":"Ys","c":"Y","x":33.5,"y":256},{"p":"A","s":"Ys","c":"Y","x":33.5,"y":279},
{"p":"A","s":"Yh","c":"Y","x":26.5,"y":258},{"p":"A","s":"Yh","c":"Y","x":31.5,"y":248},{"p":"A","s":"Yh","c":"Y","x":36.5,"y":258},
{"p":"A","s":"Xs","c":"X","x":31,"y":277.5},{"p":"A","s":"Xs","c":"X","x":54,"y":277.5},{"p":"A","s":"Xs","c":"X","x":54,"y":280.5},{"p":"A","s":"Xs","c":"X","x":31,"y":280.5},
{"p":"A","s":"Xh","c":"X","x":52,"y":274},{"p":"A","s":"Xh","c":"X","x":63,"y":279},{"p":"A","s":"Xh","c":"X","x":52,"y":284},
{"p":"B","s":"Ys","c":"Y","x":563,"y":277},{"p":"B","s":"Ys","c":"Y","x":563,"y":255},{"p":"B","s":"Ys","c":"Y","x":567,"y":255},{"p":"B","s":"Ys","c":"Y","x":567,"y":277},
{"p":"B","s":"Yh","c":"Y","x":560,"y":257},{"p":"B","s":"Yh","c":"Y","x":565,"y":245},{"p":"B","s":"Yh","c":"Y","x":570,"y":257},
{"p":"B","s":"Xs","c":"X","x":565,"y":275.5},{"p":"B","s":"Xs","c":"X","x":588,"y":275.5},{"p":"B","s":"Xs","c":"X","x":588,"y":278.5},{"p":"B","s":"Xs","c":"X","x":565,"y":278.5},
{"p":"B","s":"Xh","c":"X","x":586,"y":272},{"p":"B","s":"Xh","c":"X","x":597,"y":277},{"p":"B","s":"Xh","c":"X","x":586,"y":282}
],
"origins":[{"p":"A","x":31,"y":279},{"p":"B","x":565,"y":277}]
},
"hconcat":[
{"width":478,"height":294,
"resolve":{"scale":{"x":"independent","y":"independent","fill":"independent"}},
"encoding":{"x":{"field":"x","type":"quantitative","axis":null,"scale":{"domain":[0,478]}},"y":{"field":"y","type":"quantitative","axis":null,"scale":{"domain":[294,0]}}},
"layer":[
{"data":{"name":"grains"},"mark":{"type":"line","order":false,"strokeOpacity":0,"interpolate":"linear"},"encoding":{"x":{"field":"x","type":"quantitative","axis":null,"scale":{"domain":[546.2,1018.1]}},"y":{"field":"y","type":"quantitative","axis":null,"scale":{"domain":[289,-0.9]}},"detail":{"field":"g"},"fill":{"field":"a","type":"ordinal","legend":null,"scale":{"domain":[1,2,3,4,5,6,7,8,9,10,11,12],"range":["#0000ff","#005dff","#00b9ff","#00ffe8","#00ff80","#00ff30","#0cff00","#8bff00","#e8ff00","#ffb900","#ff5d00","#ff0000"]}}}},
{"data":{"name":"contours"},"mark":{"type":"line","order":false,"strokeOpacity":0},"encoding":{"detail":{"field":"p"},"fill":{"field":"b","type":"ordinal","legend":null,"scale":{"domain":[1,2,3,4,5,6,7,8,9,10,11,12],"range":["#0000ff","#005dff","#00b9ff","#00ffe8","#00ff80","#00ff30","#0cff00","#8bff00","#e8ff00","#ffb900","#ff5d00","#ff0000"]}}}},
{"data":{"name":"grains"},"mark":{"type":"line","order":false,"color":"#141414","strokeWidth":1},"encoding":{"x":{"field":"x","type":"quantitative","axis":null,"scale":{"domain":[546.2,1018.1]}},"y":{"field":"y","type":"quantitative","axis":null,"scale":{"domain":[289,-0.9]}},"detail":{"field":"g"}}},
{"data":{"name":"boxes"},"transform":[{"filter":"datum.p==='A'"}],"mark":{"type":"rect","fill":"white","stroke":"#808080","strokeWidth":1.5},"encoding":{"x2":{"field":"x2"},"y2":{"field":"y2"}}},
{"data":{"name":"swatches"},"transform":[{"filter":"datum.p==='A'"}],"mark":{"type":"rect"},"encoding":{"x2":{"field":"x2"},"y2":{"field":"y2"},"fill":{"field":"b","type":"ordinal","legend":null,"scale":{"domain":[1,2,3,4,5,6,7,8,9,10,11,12],"range":["#0000ff","#005dff","#00b9ff","#00ffe8","#00ff8b","#00ff2e","#2eff00","#8bff00","#e8ff00","#ffb900","#ff5d00","#ff0000"]}}}},
{"data":{"name":"ticks"},"transform":[{"filter":"datum.p==='A'"}],"mark":{"type":"rule","color":"#999999","strokeWidth":1},"encoding":{"x2":{"field":"x2"}}},
{"data":{"name":"texts"},"transform":[{"filter":"datum.p==='A'&&datum.k==='title'"}],"mark":{"type":"text","align":"left","baseline":"middle","font":"Liberation Sans","fontSize":14,"color":"#111111"},"encoding":{"text":{"field":"t"}}},
{"data":{"name":"texts"},"transform":[{"filter":"datum.p==='A'&&datum.k==='num'"}],"mark":{"type":"text","align":"right","baseline":"middle","font":"Liberation Sans","fontSize":14,"color":"#111111"},"encoding":{"text":{"field":"t"}}},
{"data":{"name":"texts"},"transform":[{"filter":"datum.p==='A'&&datum.k==='panel'"}],"mark":{"type":"text","align":"left","baseline":"middle","font":"Liberation Sans","fontWeight":"bold","fontSize":17,"color":"#111111"},"encoding":{"text":{"field":"t"}}},
{"data":{"name":"triad"},"transform":[{"filter":"datum.p==='A'"}],"mark":{"type":"line","order":false,"strokeOpacity":0},"encoding":{"detail":{"field":"s"},"fill":{"field":"c","type":"nominal","legend":null,"scale":{"domain":["X","Y"],"range":["#a81414","#10b010"]}}}},
{"data":{"name":"origins"},"transform":[{"filter":"datum.p==='A'"}],"mark":{"type":"point","filled":true,"color":"#10109a","size":110,"opacity":1}},
{"data":{"name":"texts"},"transform":[{"filter":"datum.p==='A'&&datum.k==='axis'"}],"mark":{"type":"text","align":"center","baseline":"middle","font":"Liberation Sans","fontWeight":"bold","fontSize":10,"color":"#111111"},"encoding":{"text":{"field":"t"}}},
{"data":{"name":"texts"},"transform":[{"filter":"datum.p==='A'&&datum.k==='z'"}],"mark":{"type":"text","align":"center","baseline":"middle","font":"Liberation Sans","fontWeight":"bold","fontSize":7,"color":"#000000"},"encoding":{"text":{"field":"t"}}}
]},
{"width":479,"height":294,
"resolve":{"scale":{"fill":"independent"}},
"encoding":{"x":{"field":"x","type":"quantitative","axis":null,"scale":{"domain":[478,957]}},"y":{"field":"y","type":"quantitative","axis":null,"scale":{"domain":[294,0]}}},
"layer":[
{"data":{"name":"grains"},"mark":{"type":"line","order":false,"strokeOpacity":0,"fill":"#0000ff"},"encoding":{"detail":{"field":"g"}}},
{"data":{"name":"damage"},"mark":{"type":"line","order":false,"strokeOpacity":0},"encoding":{"detail":{"field":"p"},"fill":{"field":"b","type":"ordinal","legend":null,"scale":{"domain":[1,2,3,4,5,6,7,8,9,10,11,12],"range":["#0000ff","#005dff","#00b9ff","#00ffe8","#00ff8b","#00ff2e","#2eff00","#8bff00","#e8ff00","#ffb900","#ff5d00","#ff0000"]}}}},
{"data":{"name":"grains"},"mark":{"type":"line","order":false,"color":"#0a0a28","strokeWidth":1},"encoding":{"detail":{"field":"g"}}},
{"data":{"name":"boxes"},"transform":[{"filter":"datum.p==='B'"}],"mark":{"type":"rect","fill":"white","stroke":"#808080","strokeWidth":1.5},"encoding":{"x2":{"field":"x2"},"y2":{"field":"y2"}}},
{"data":{"name":"swatches"},"transform":[{"filter":"datum.p==='B'"}],"mark":{"type":"rect"},"encoding":{"x2":{"field":"x2"},"y2":{"field":"y2"},"fill":{"field":"b","type":"ordinal","legend":null,"scale":{"domain":[1,2,3,4,5,6,7,8,9,10,11,12],"range":["#0000ff","#005dff","#00b9ff","#00ffe8","#00ff8b","#00ff2e","#2eff00","#8bff00","#e8ff00","#ffb900","#ff5d00","#ff0000"]}}}},
{"data":{"name":"ticks"},"transform":[{"filter":"datum.p==='B'"}],"mark":{"type":"rule","color":"#999999","strokeWidth":1},"encoding":{"x2":{"field":"x2"}}},
{"data":{"name":"texts"},"transform":[{"filter":"datum.p==='B'&&datum.k==='title'"}],"mark":{"type":"text","align":"left","baseline":"middle","font":"Liberation Sans","fontSize":14,"color":"#111111"},"encoding":{"text":{"field":"t"}}},
{"data":{"name":"texts"},"transform":[{"filter":"datum.p==='B'&&datum.k==='num'"}],"mark":{"type":"text","align":"right","baseline":"middle","font":"Liberation Sans","fontSize":14,"color":"#111111"},"encoding":{"text":{"field":"t"}}},
{"data":{"name":"texts"},"transform":[{"filter":"datum.p==='B'&&datum.k==='panel'"}],"mark":{"type":"text","align":"left","baseline":"middle","font":"Liberation Sans","fontWeight":"bold","fontSize":17,"color":"#111111"},"encoding":{"text":{"field":"t"}}},
{"data":{"name":"triad"},"transform":[{"filter":"datum.p==='B'"}],"mark":{"type":"line","order":false,"strokeOpacity":0},"encoding":{"detail":{"field":"s"},"fill":{"field":"c","type":"nominal","legend":null,"scale":{"domain":["X","Y"],"range":["#a81414","#10b010"]}}}},
{"data":{"name":"origins"},"transform":[{"filter":"datum.p==='B'"}],"mark":{"type":"point","filled":true,"color":"#10109a","size":110,"opacity":1}},
{"data":{"name":"texts"},"transform":[{"filter":"datum.p==='B'&&datum.k==='axis'"}],"mark":{"type":"text","align":"center","baseline":"middle","font":"Liberation Sans","fontWeight":"bold","fontSize":10,"color":"#111111"},"encoding":{"text":{"field":"t"}}},
{"data":{"name":"texts"},"transform":[{"filter":"datum.p==='B'&&datum.k==='z'"}],"mark":{"type":"text","align":"center","baseline":"middle","font":"Liberation Sans","fontWeight":"bold","fontSize":7,"color":"#000000"},"encoding":{"text":{"field":"t"}}}
]}
]}
